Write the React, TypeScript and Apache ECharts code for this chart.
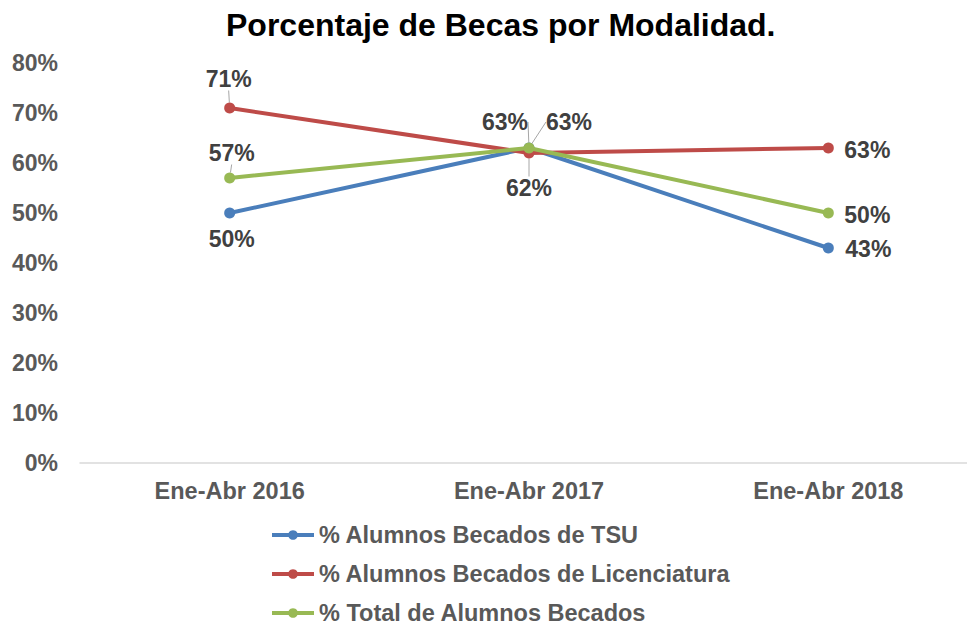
import React, { useEffect, useRef } from "react";
import * as echarts from "echarts";

const categories = ["Ene-Abr 2016", "Ene-Abr 2017", "Ene-Abr 2018"];
const tsuValues = [50, 63, 43];
const licValues = [71, 62, 63];
const totalValues = [57, 63, 50];
const seriesNames = [
  "% Alumnos Becados de TSU",
  "% Alumnos Becados de Licenciatura",
  "% Total de Alumnos Becados",
];
const seriesColors = ["#4A7EBB", "#BE4B48", "#98B954"];

// label offsets (dx, dy) relative to the point, per series / data point
const labelOffsets = [
  [[2, 26], [-24, -26], [40, 1]],
  [[-1, -29], [0, 35], [39, 2]],
  [[2, -25], [40, -26], [39, 2]],
];
// whether a leader line is drawn, per series / data point
const leaderShown = [
  [false, true, false],
  [true, true, false],
  [true, true, false],
];

const FONT = "'Liberation Sans', Arial, sans-serif";

export default function App() {
  const ref = useRef<HTMLDivElement>(null);
  useEffect(() => {
    document.body.style.margin = "0";
    const chart = echarts.init(ref.current!, null, { renderer: "svg" });
    const allValues = [tsuValues, licValues, totalValues];
    chart.setOption({
      animation: false,
      backgroundColor: "#fff",
      textStyle: { fontFamily: FONT },
      title: {
        text: "Porcentaje de Becas por Modalidad.",
        left: 221,
        top: 4,
        textStyle: { fontFamily: FONT, fontSize: 32, fontWeight: "bold", color: "#000" },
      },
      grid: { left: 80, top: 63, width: 898, height: 400 },
      legend: {
        orient: "vertical",
        left: 265,
        top: 518,
        height: 200,
        itemWidth: 42,
        itemHeight: 12,
        itemGap: 15,
        data: seriesNames,
        lineStyle: { width: 4 },
        textStyle: { fontFamily: FONT, fontSize: 23.5, fontWeight: "bold", color: "#595959" },
      },
      xAxis: {
        type: "category",
        data: categories,
        boundaryGap: true,
        axisLine: { lineStyle: { color: "#D9D9D9", width: 1.5 } },
        axisTick: { show: false },
        axisLabel: { fontFamily: FONT, fontSize: 23.5, fontWeight: "bold", color: "#595959", margin: 16 },
      },
      yAxis: {
        type: "value",
        min: 0,
        max: 80,
        interval: 10,
        splitLine: { show: false },
        axisLine: { show: false },
        axisTick: { show: false },
        axisLabel: {
          formatter: "{value}%",
          fontFamily: FONT,
          fontSize: 23,
          fontWeight: "bold",
          color: "#595959",
          margin: 22,
        },
      },
      series: allValues.map((vals, si) => ({
        name: seriesNames[si],
        type: "line",
        data: vals.map((v, di) => ({
          value: v,
          labelLine: { show: leaderShown[si][di] },
        })),
        color: seriesColors[si],
        symbol: "circle",
        symbolSize: 11,
        lineStyle: { width: 4, color: seriesColors[si] },
        itemStyle: { color: seriesColors[si] },
        label: {
          show: true,
          position: "inside",
          formatter: "{c}%",
          fontFamily: FONT,
          fontSize: 23,
          fontWeight: "bold",
          color: "#404040",
        },
        labelLine: { show: true, lineStyle: { color: "#A6A6A6", width: 1 } },
        labelLayout: (p: any) => {
          const o = labelOffsets[si][p.dataIndex];
          return { dx: o[0], dy: o[1] };
        },
        z: 2 + si,
      })),
    });
    return () => chart.dispose();
  }, []);
  return (
    <div style={{ width: 967, height: 624, overflow: "hidden", position: "relative" }}>
      <div ref={ref} style={{ width: 1000, height: 624 }} />
    </div>
  );
}
